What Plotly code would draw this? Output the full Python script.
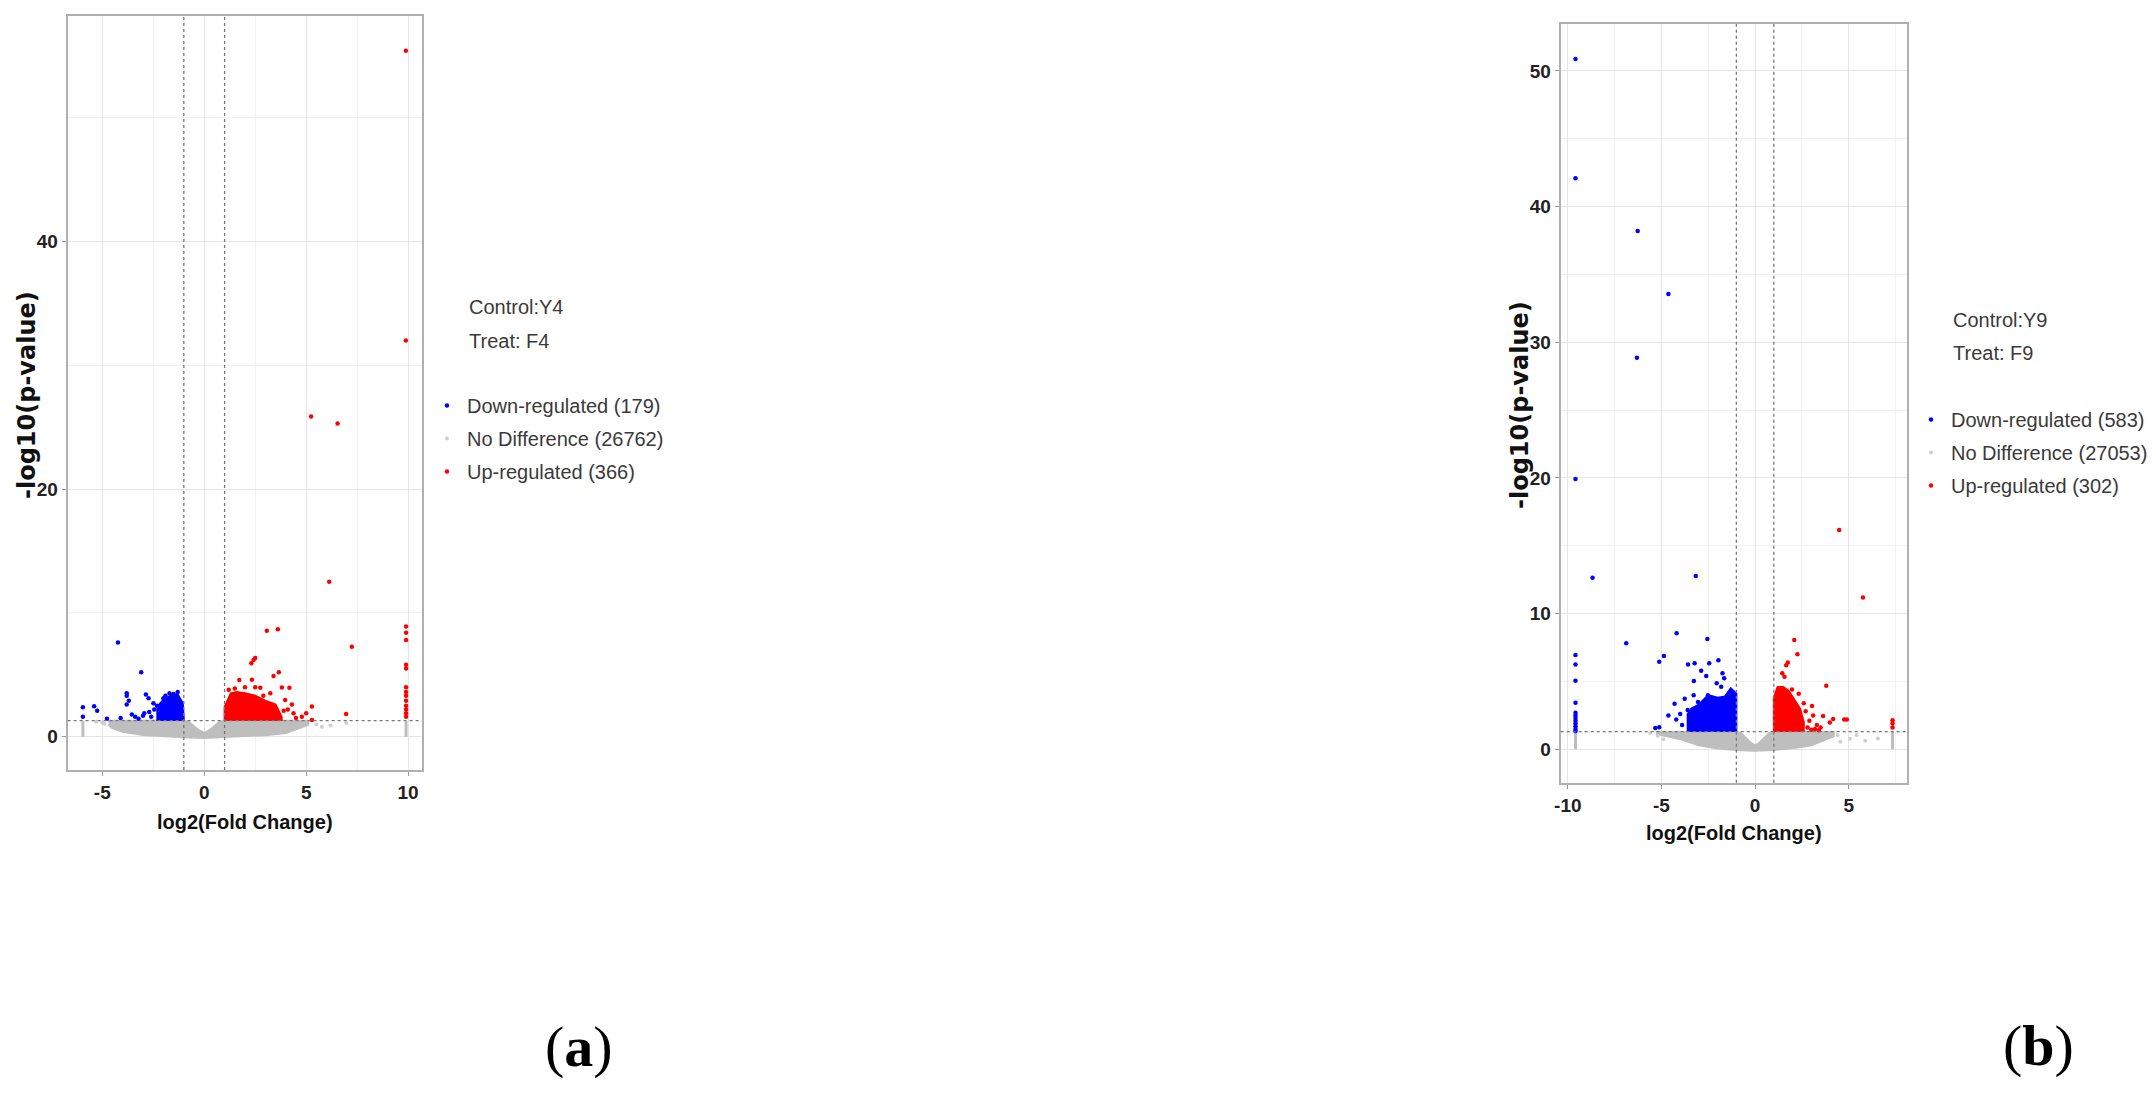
import plotly.graph_objects as go

# ---- thresholds ----
fc_cut = 1.0
p_cut = 1.301  # -log10(0.05)

# ---- panel (a): Control Y4 vs Treat F4 ----
a_labels = ["Down-regulated (179)", "No Difference (26762)", "Up-regulated (366)"]
a_header = ["Control:Y4", "Treat: F4"]
a_xticks, a_xticktext = [-5, 0, 5, 10], ["-5", "0", "5", "10"]
a_yticks, a_yticktext = [0, 20, 40], ["0", "20", "40"]

a_down_x = [-4.23, -3.09, -3.8, -3.8, -3.7, -3.8, -5.95, -5.95, -5.4, -5.25, -4.77, -2.86, -2.73, -2.49,
            -3.55, -3.39, -3.22, -2.94, -2.32, -2.16, -1.9, -1.7, -1.5, -1.3, -2.0, -2.6, -2.2, -1.8,
            -2.45, -2.7, -4.1, -3.0]
a_down_y = [7.6, 5.2, 3.5, 3.3, 2.9, 2.6, 2.37, 1.6, 2.45, 2.1, 1.45, 3.4, 3.1, 2.7,
            1.8, 1.6, 1.45, 1.9, 2.5, 2.1, 3.3, 3.5, 3.45, 3.6, 3.1, 1.6, 1.5, 2.8,
            2.2, 2.0, 1.5, 1.7]
a_down_blob_x = [-1.0, -1.05, -1.3, -1.6, -2.0, -2.3, -2.3, -1.0]
a_down_blob_y = [1.35, 2.7, 3.4, 3.35, 3.0, 2.4, 1.35, 1.35]

a_up_x = [9.89, 9.89, 5.24, 6.54, 6.13, 9.9, 9.9, 9.9, 7.24, 3.07, 3.61, 9.9, 9.9, 9.9, 9.9, 9.9, 9.9,
          9.9, 9.9, 9.9, 9.9, 6.96, 5.28, 5.28, 2.42, 2.5, 2.31, 1.72, 2.34, 3.4, 3.66, 2.5, 2.75,
          3.24, 3.81, 4.18, 3.97, 4.38, 4.79, 5.0, 4.1, 4.5, 1.5, 2.0, 1.2, 2.9, 3.9, 4.3]
a_up_y = [55.4, 32.0, 25.85, 25.3, 12.52, 8.9, 8.4, 7.8, 7.27, 8.56, 8.67, 5.8, 5.5, 4.0, 3.6, 3.3, 2.9,
          2.5, 2.2, 1.9, 1.6, 1.83, 1.35, 2.43, 6.2, 6.35, 5.93, 4.58, 4.6, 4.9, 5.2, 4.0, 3.96,
          3.5, 3.98, 3.96, 2.96, 1.89, 1.6, 1.9, 2.2, 1.5, 3.9, 4.0, 3.8, 3.3, 2.1, 2.6]
a_up_blob_x = [1.0, 1.0, 1.3, 1.6, 2.0, 2.5, 3.0, 3.5, 3.8, 3.8, 1.0]
a_up_blob_y = [1.35, 2.4, 3.5, 3.6, 3.5, 3.3, 2.9, 2.6, 1.6, 1.35, 1.35]

a_ns_blob_x = [-4.7, -1.0, -0.75, -0.5, -0.25, 0.0, 0.25, 0.5, 0.75, 1.0, 5.1,
               5.1, 4.5, 4.0, 3.0, 2.0, 1.0, 0.0, -1.0, -2.0, -3.0, -4.0, -4.5, -4.7]
a_ns_blob_y = [1.28, 1.3, 1.2, 0.86, 0.5, 0.3, 0.5, 0.86, 1.2, 1.3, 1.28,
               0.95, 0.6, 0.3, 0.12, 0.03, -0.05, -0.1, -0.05, 0.03, 0.14, 0.4, 0.7, 0.95]
a_ns_x = [5.77, 6.2, 6.97, 5.5, -5.0, -5.3, -4.9]
a_ns_y = [0.8, 0.9, 1.1, 1.0, 1.15, 1.2, 1.05]
a_stack_x = [-5.95, -5.95, None, 9.9, 9.9]
a_stack_y = [0.0, 1.25, None, 0.0, 1.25]

# ---- panel (b): Control Y9 vs Treat F9 ----
b_labels = ["Down-regulated (583)", "No Difference (27053)", "Up-regulated (302)"]
b_header = ["Control:Y9", "Treat: F9"]
b_xticks, b_xticktext = [-10, -5, 0, 5], ["-10", "-5", "0", "5"]
b_yticks, b_yticktext = [0, 10, 20, 30, 40, 50], ["0", "10", "20", "30", "40", "50"]

b_down_x = [-9.59, -9.59, -6.27, -4.63, -6.31, -9.59, -8.68, -3.17, -4.19, -2.55, -6.88, -9.59, -9.59,
            -9.59, -9.59, -9.59, -9.59, -9.59, -9.59, -9.59, -9.59, -9.59, -9.59, -5.12, -4.87, -3.58,
            -3.23, -2.45, -1.96, -2.88, -2.61, -1.74, -3.27, -1.65, -2.05, -1.81, -4.3, -4.63, -3.76,
            -3.28, -5.33, -5.12, -4.21, -2.52, -3.05, -3.9, -4.0, -3.6]
b_down_y = [50.87, 42.08, 38.2, 33.55, 28.86, 19.92, 12.65, 12.77, 8.55, 8.13, 7.81, 6.95, 6.26,
            5.06, 3.43, 2.7, 2.5, 2.3, 2.1, 1.9, 1.7, 1.5, 1.35, 6.46, 6.88, 6.26,
            6.34, 6.34, 6.56, 5.79, 5.4, 5.6, 5.03, 5.23, 4.86, 4.61, 3.36, 2.5, 3.73,
            3.98, 1.57, 1.62, 2.2, 3.98, 3.49, 1.8, 2.6, 2.9]
b_down_blob_x = [-1.0, -1.0, -1.3, -1.6, -2.0, -2.5, -3.0, -3.4, -3.6, -3.6, -1.0]
b_down_blob_y = [1.35, 4.1, 4.5, 3.9, 3.8, 4.0, 3.3, 3.0, 2.6, 1.35, 1.35]

b_up_x = [4.49, 5.76, 2.09, 2.26, 1.45, 1.66, 1.75, 1.57, 3.8, 4.9, 4.76, 7.34, 7.34, 7.34, 3.04, 2.6,
          3.99, 4.17, 3.63, 2.33, 1.97, 2.8, 3.0, 3.2, 3.4, 3.5, 2.9, 3.1, 2.7, 3.3]
b_up_y = [16.16, 11.18, 8.05, 7.0, 5.6, 6.2, 6.4, 5.35, 4.69, 2.2, 2.2, 2.15, 1.9, 1.6, 3.19, 3.39,
          1.98, 2.23, 2.45, 4.1, 4.4, 1.6, 1.45, 1.5, 1.4, 1.6, 2.1, 2.5, 2.8, 1.8]
b_up_blob_x = [1.0, 1.0, 1.2, 1.5, 1.8, 2.1, 2.4, 2.6, 2.6, 1.0]
b_up_blob_y = [1.35, 3.8, 4.6, 4.6, 4.3, 3.6, 3.0, 2.0, 1.35, 1.35]

b_ns_blob_x = [-5.3, -1.0, -0.75, -0.5, -0.25, 0.0, 0.25, 0.5, 0.75, 1.0, 4.2,
               4.2, 3.5, 3.0, 2.0, 1.0, 0.0, -1.0, -2.0, -3.0, -4.0, -5.0, -5.3]
b_ns_blob_y = [1.28, 1.3, 1.2, 0.86, 0.5, 0.3, 0.5, 0.86, 1.2, 1.3, 1.28,
               0.95, 0.55, 0.3, 0.08, -0.05, -0.1, -0.05, 0.06, 0.3, 0.75, 1.1, 1.15]
b_ns_x = [4.55, 5.07, 5.43, 5.88, 6.56, 4.4, -5.2, -4.9, -5.6]
b_ns_y = [0.56, 0.77, 1.06, 0.64, 0.8, 1.06, 1.0, 0.75, 1.2]
b_stack_x = [-9.59, -9.59, None, 7.34, 7.34]
b_stack_y = [0.0, 1.3, None, 0.0, 1.3]

BLUE, RED, GREY = "#0000ff", "#ff0000", "#bebebe"
SANS = "Liberation Sans, Arial, sans-serif"
W, H = 2153, 1097

fig = go.Figure()


def add_panel(xa, ya, leg, labels, down, down_blob, up, up_blob, ns, ns_blob, stack):
    blob = lambda xy, c: go.Scatter(x=xy[0], y=xy[1], xaxis=xa, yaxis=ya, mode="lines", fill="toself",
                                    fillcolor=c, line=dict(color=c, width=2), showlegend=False, hoverinfo="skip")
    fig.add_trace(blob(ns_blob, GREY))
    fig.add_trace(go.Scatter(x=stack[0], y=stack[1], xaxis=xa, yaxis=ya, mode="lines",
                             line=dict(color=GREY, width=3), showlegend=False, hoverinfo="skip"))
    fig.add_trace(blob(down_blob, BLUE))
    fig.add_trace(blob(up_blob, RED))
    for pts, name, col, sz in [(down, labels[0], BLUE, 4.5), (ns, labels[1], "#cfcfcf", 4),
                               (up, labels[2], RED, 4.5)]:
        fig.add_trace(go.Scatter(x=pts[0], y=pts[1], xaxis=xa, yaxis=ya, mode="markers", name=name,
                                 legend=leg, legendgroup=leg + name, marker=dict(color=col, size=sz)))


add_panel("x", "y", "legend", a_labels, (a_down_x, a_down_y), (a_down_blob_x, a_down_blob_y),
          (a_up_x, a_up_y), (a_up_blob_x, a_up_blob_y), (a_ns_x, a_ns_y), (a_ns_blob_x, a_ns_blob_y),
          (a_stack_x, a_stack_y))
add_panel("x2", "y2", "legend2", b_labels, (b_down_x, b_down_y), (b_down_blob_x, b_down_blob_y),
          (b_up_x, b_up_y), (b_up_blob_x, b_up_blob_y), (b_ns_x, b_ns_y), (b_ns_blob_x, b_ns_blob_y),
          (b_stack_x, b_stack_y))

tickfont = dict(family=SANS, size=19, color="#222222", weight="bold")
axis_common = dict(showline=True, mirror=True, linecolor="#b0b0b0", linewidth=2, zeroline=False,
                   showgrid=True, gridcolor="#e6e6e6", gridwidth=1, ticks="outside", ticklen=4,
                   tickcolor="#999999", tickfont=tickfont, tickmode="array", automargin=False)
fig.update_layout(
    xaxis=dict(domain=[0.0314, 0.1959], range=[-6.7, 10.67], tickvals=a_xticks, ticktext=a_xticktext,
               minor=dict(tickmode="linear", tick0=0, dtick=2.5, showgrid=True, gridcolor="#f2f2f2"), **axis_common),
    yaxis=dict(domain=[0.2981, 0.9854], range=[-2.69, 58.2], tickvals=a_yticks, ticktext=a_yticktext,
               minor=dict(tickmode="linear", tick0=0, dtick=10, showgrid=True, gridcolor="#f2f2f2"), **axis_common),
    xaxis2=dict(domain=[0.7249, 0.8859], range=[-10.38, 8.13], tickvals=b_xticks, ticktext=b_xticktext,
                anchor="y2", minor=dict(tickmode="linear", tick0=0, dtick=2.5, showgrid=True, gridcolor="#f2f2f2"),
                **axis_common),
    yaxis2=dict(domain=[0.2865, 0.9781], range=[-2.46, 53.45], tickvals=b_yticks, ticktext=b_yticktext,
                anchor="x2", minor=dict(tickmode="linear", tick0=0, dtick=5, showgrid=True, gridcolor="#f2f2f2"),
                **axis_common),
)

# cut-off guide lines
for xr, yr in [("x", "y"), ("x2", "y2")]:
    for v in (-fc_cut, fc_cut):
        fig.add_shape(type="line", xref=xr, yref=yr + " domain", x0=v, x1=v, y0=0, y1=1,
                      line=dict(color="#777777", width=1.3, dash="dot"))
    fig.add_shape(type="line", xref=xr + " domain", yref=yr, x0=0, x1=1, y0=p_cut, y1=p_cut,
                  line=dict(color="#777777", width=1.3, dash="dot"))

# legends in container coordinates so they never push the margins
legfont = dict(family=SANS, size=20, color="#3a3a3a")
fig.update_layout(
    legend=dict(x=427 / W, y=1 - 386 / H, xref="container", yref="container", xanchor="left",
                yanchor="top", font=legfont, bgcolor="rgba(0,0,0,0)", itemwidth=30, tracegroupgap=4),
    legend2=dict(x=1911 / W, y=1 - 400 / H, xref="container", yref="container", xanchor="left",
                 yanchor="top", font=legfont, bgcolor="rgba(0,0,0,0)", itemwidth=30, tracegroupgap=4),
)

ann = []
# header text beside each legend
for hdr, x0, ys in [(a_header, 467, (307.5, 340.5)), (b_header, 1951, (320, 353))]:
    for t, yy in zip(hdr, ys):
        ann.append(dict(text=t, x=x0 / W, y=1 - yy / H, xanchor="left", yanchor="middle",
                        font=dict(family=SANS, size=20, color="#3a3a3a")))
# axis titles
xt_font = dict(family=SANS, size=20, color="#111111", weight="bold")
yt_font = dict(family="DejaVu Sans", size=24, color="#111111", weight="bold")
ann += [
    dict(text="log2(Fold Change)", x=244.5 / W, y=1 - 821.7 / H, font=xt_font),
    dict(text="log2(Fold Change)", x=1734 / W, y=1 - 833 / H, font=xt_font),
    dict(text="-log10(p-value)", x=27 / W, y=1 - 395 / H, textangle=-90, font=yt_font),
    dict(text="-log10(p-value)", x=1520 / W, y=1 - 405 / H, textangle=-90, font=yt_font),
    dict(text="(<b>a</b>)", x=579 / W, y=1 - 1046 / H, font=dict(family="Liberation Serif", size=58, color="#000000")),
    dict(text="(<b>b</b>)", x=2038 / W, y=1 - 1045 / H, font=dict(family="Liberation Serif", size=58, color="#000000")),
]
for a in ann:
    a.update(xref="paper", yref="paper", showarrow=False)
    a.setdefault("xanchor", "center")
    a.setdefault("yanchor", "middle")
fig.update_layout(annotations=ann)

fig.update_layout(width=W, height=H, margin=dict(l=0, r=0, t=0, b=0, autoexpand=False),
                  paper_bgcolor="white", plot_bgcolor="white", autosize=False)
fig.write_html("out.html", config={"displayModeBar": False},
               post_script="document.body.style.margin='0';document.body.style.overflow='hidden';")
